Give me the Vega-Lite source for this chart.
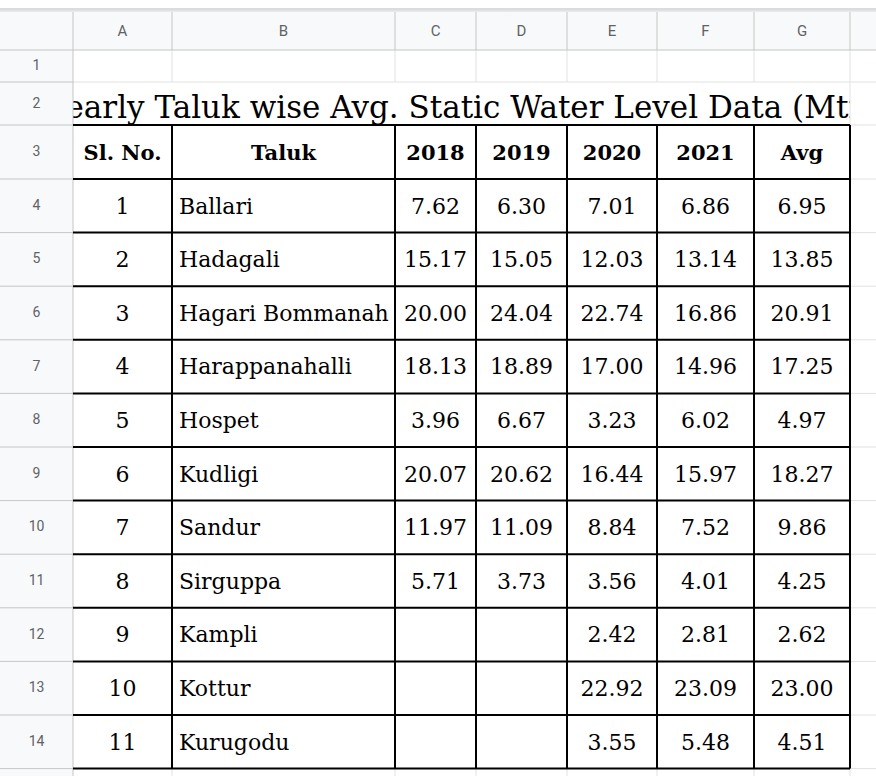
{
  "$schema": "https://vega.github.io/schema/vega-lite/v6.json",
  "width": 876,
  "height": 776,
  "autosize": "none",
  "padding": 0,
  "background": "white",
  "config": {"view": {"stroke": null}, "axis": {"disable": true}},
  "datasets": {
    "cols": [
      {"c": 1, "letter": "A", "label": "Sl. No."},
      {"c": 2, "letter": "B", "label": "Taluk"},
      {"c": 3, "letter": "C", "label": "2018"},
      {"c": 4, "letter": "D", "label": "2019"},
      {"c": 5, "letter": "E", "label": "2020"},
      {"c": 6, "letter": "F", "label": "2021"},
      {"c": 7, "letter": "G", "label": "Avg"},
      {"c": 8, "letter": "", "label": ""}
    ],
    "rows": [
      {"r": 1}, {"r": 2}, {"r": 3}, {"r": 4}, {"r": 5}, {"r": 6}, {"r": 7}, {"r": 8},
      {"r": 9}, {"r": 10}, {"r": 11}, {"r": 12}, {"r": 13}, {"r": 14}, {"r": 15}
    ],
    "title": [{"row": 2, "text": "Yearly Taluk wise Avg. Static Water Level Data (Mtr)"}],
    "taluks": [
      {"row": 4, "sl": 1, "taluk": "Ballari", "2018": 7.62, "2019": 6.30, "2020": 7.01, "2021": 6.86, "Avg": 6.95},
      {"row": 5, "sl": 2, "taluk": "Hadagali", "2018": 15.17, "2019": 15.05, "2020": 12.03, "2021": 13.14, "Avg": 13.85},
      {"row": 6, "sl": 3, "taluk": "Hagari Bommanahalli", "2018": 20.00, "2019": 24.04, "2020": 22.74, "2021": 16.86, "Avg": 20.91},
      {"row": 7, "sl": 4, "taluk": "Harappanahalli", "2018": 18.13, "2019": 18.89, "2020": 17.00, "2021": 14.96, "Avg": 17.25},
      {"row": 8, "sl": 5, "taluk": "Hospet", "2018": 3.96, "2019": 6.67, "2020": 3.23, "2021": 6.02, "Avg": 4.97},
      {"row": 9, "sl": 6, "taluk": "Kudligi", "2018": 20.07, "2019": 20.62, "2020": 16.44, "2021": 15.97, "Avg": 18.27},
      {"row": 10, "sl": 7, "taluk": "Sandur", "2018": 11.97, "2019": 11.09, "2020": 8.84, "2021": 7.52, "Avg": 9.86},
      {"row": 11, "sl": 8, "taluk": "Sirguppa", "2018": 5.71, "2019": 3.73, "2020": 3.56, "2021": 4.01, "Avg": 4.25},
      {"row": 12, "sl": 9, "taluk": "Kampli", "2018": null, "2019": null, "2020": 2.42, "2021": 2.81, "Avg": 2.62},
      {"row": 13, "sl": 10, "taluk": "Kottur", "2018": null, "2019": null, "2020": 22.92, "2021": 23.09, "Avg": 23.00},
      {"row": 14, "sl": 11, "taluk": "Kurugodu", "2018": null, "2019": null, "2020": 3.55, "2021": 5.48, "Avg": 4.51}
    ]
  },
  "layer": [
    {
      "data": {"values": [{"part": "column header"}]},
      "mark": {"type": "rect", "color": "#f8f9fa"},
      "encoding": {
        "x": {"datum": 0, "type": "quantitative", "scale": {"domain": [0,1,2,3,4,5,6,7,8,9], "range": [0,73,172,395,476,567,657,754,850,950], "zero": false, "nice": false}},
        "x2": {"datum": 9},
        "y": {"datum": 0, "type": "quantitative", "scale": {"domain": [-1,0,1,2,3,4,5,6,7,8,9,10,11,12,13,14,15,16], "range": [0,12,50,82,125,179,232.6,286.2,339.8,393.4,447,500.6,554.2,607.8,661.4,715,768.6,822.2], "zero": false, "nice": false}},
        "y2": {"datum": 1}
      }
    },
    {
      "data": {"values": [{"part": "toolbar shadow"}]},
      "mark": {"type": "rect", "color": {"gradient": "linear", "x1": 0, "y1": 0, "x2": 0, "y2": 1, "stops": [{"offset": 0, "color": "#ffffff"}, {"offset": 0.64, "color": "#ffffff"}, {"offset": 0.72, "color": "#d6d6d6"}, {"offset": 1, "color": "#ececec"}]}},
      "encoding": {
        "x": {"datum": 0, "type": "quantitative", "scale": {"domain": [0,1,2,3,4,5,6,7,8,9], "range": [0,73,172,395,476,567,657,754,850,950], "zero": false, "nice": false}},
        "x2": {"datum": 9},
        "y": {"datum": -1, "type": "quantitative", "scale": {"domain": [-1,0,1,2,3,4,5,6,7,8,9,10,11,12,13,14,15,16], "range": [0,12,50,82,125,179,232.6,286.2,339.8,393.4,447,500.6,554.2,607.8,661.4,715,768.6,822.2], "zero": false, "nice": false}},
        "y2": {"datum": 0}
      }
    },
    {
      "data": {"name": "title"},
      "mark": {"type": "text", "font": "DejaVu Serif", "fontSize": 31, "align": "center", "baseline": "alphabetic", "dy": 36, "color": "#000000"},
      "encoding": {
        "x": {"datum": 3.821, "type": "quantitative", "scale": {"domain": [0,1,2,3,4,5,6,7,8,9], "range": [0,73,172,395,476,567,657,754,850,950], "zero": false, "nice": false}},
        "y": {"field": "row", "type": "quantitative", "scale": {"domain": [-1,0,1,2,3,4,5,6,7,8,9,10,11,12,13,14,15,16], "range": [0,12,50,82,125,179,232.6,286.2,339.8,393.4,447,500.6,554.2,607.8,661.4,715,768.6,822.2], "zero": false, "nice": false}},
        "text": {"field": "text"}
      }
    },
    {
      "data": {"name": "taluks"},
      "mark": {"type": "text", "font": "DejaVu Serif", "fontSize": 22, "align": "left", "baseline": "alphabetic", "dx": 7, "dy": 34.5, "color": "#000000", "limit": 222, "ellipsis": "\u200b"},
      "encoding": {
        "x": {"datum": 2, "type": "quantitative", "scale": {"domain": [0,1,2,3,4,5,6,7,8,9], "range": [0,73,172,395,476,567,657,754,850,950], "zero": false, "nice": false}},
        "y": {"field": "row", "type": "quantitative", "scale": {"domain": [-1,0,1,2,3,4,5,6,7,8,9,10,11,12,13,14,15,16], "range": [0,12,50,82,125,179,232.6,286.2,339.8,393.4,447,500.6,554.2,607.8,661.4,715,768.6,822.2], "zero": false, "nice": false}},
        "text": {"field": "taluk"}
      }
    },
    {
      "data": {"values": [{"x": 3, "x2": 8, "y": 4, "y2": 15, "fill": "body"}, {"x": 8, "x2": 9, "y": 2, "y2": 3, "fill": "body"}, {"x": 0, "x2": 1, "y": 1, "y2": 16, "fill": "header"}]},
      "mark": {"type": "rect"},
      "encoding": {
        "x": {"field": "x", "type": "quantitative", "scale": {"domain": [0,1,2,3,4,5,6,7,8,9], "range": [0,73,172,395,476,567,657,754,850,950], "zero": false, "nice": false}},
        "x2": {"field": "x2"},
        "y": {"field": "y", "type": "quantitative", "scale": {"domain": [-1,0,1,2,3,4,5,6,7,8,9,10,11,12,13,14,15,16], "range": [0,12,50,82,125,179,232.6,286.2,339.8,393.4,447,500.6,554.2,607.8,661.4,715,768.6,822.2], "zero": false, "nice": false}},
        "y2": {"field": "y2"},
        "color": {"field": "fill", "type": "nominal", "scale": {"domain": ["body", "header"], "range": ["#ffffff", "#f8f9fa"]}, "legend": null}
      }
    },
    {
      "data": {"name": "cols"},
      "transform": [{"filter": "datum.c >= 2"}],
      "mark": {"type": "rule", "color": "#e1e1e1", "strokeWidth": 1},
      "encoding": {
        "x": {"field": "c", "type": "quantitative", "scale": {"domain": [0,1,2,3,4,5,6,7,8,9], "range": [0,73,172,395,476,567,657,754,850,950], "zero": false, "nice": false}},
        "y": {"datum": 1, "type": "quantitative", "scale": {"domain": [-1,0,1,2,3,4,5,6,7,8,9,10,11,12,13,14,15,16], "range": [0,12,50,82,125,179,232.6,286.2,339.8,393.4,447,500.6,554.2,607.8,661.4,715,768.6,822.2], "zero": false, "nice": false}},
        "y2": {"datum": 2}
      }
    },
    {
      "data": {"name": "cols"},
      "transform": [{"filter": "datum.c >= 2"}],
      "mark": {"type": "rule", "color": "#e1e1e1", "strokeWidth": 1},
      "encoding": {
        "x": {"field": "c", "type": "quantitative", "scale": {"domain": [0,1,2,3,4,5,6,7,8,9], "range": [0,73,172,395,476,567,657,754,850,950], "zero": false, "nice": false}},
        "y": {"datum": 3, "type": "quantitative", "scale": {"domain": [-1,0,1,2,3,4,5,6,7,8,9,10,11,12,13,14,15,16], "range": [0,12,50,82,125,179,232.6,286.2,339.8,393.4,447,500.6,554.2,607.8,661.4,715,768.6,822.2], "zero": false, "nice": false}},
        "y2": {"datum": 16}
      }
    },
    {
      "data": {"name": "cols"},
      "transform": [{"filter": "datum.c == 8"}],
      "mark": {"type": "rule", "color": "#e1e1e1", "strokeWidth": 1},
      "encoding": {
        "x": {"field": "c", "type": "quantitative", "scale": {"domain": [0,1,2,3,4,5,6,7,8,9], "range": [0,73,172,395,476,567,657,754,850,950], "zero": false, "nice": false}},
        "y": {"datum": 2, "type": "quantitative", "scale": {"domain": [-1,0,1,2,3,4,5,6,7,8,9,10,11,12,13,14,15,16], "range": [0,12,50,82,125,179,232.6,286.2,339.8,393.4,447,500.6,554.2,607.8,661.4,715,768.6,822.2], "zero": false, "nice": false}},
        "y2": {"datum": 3}
      }
    },
    {
      "data": {"name": "rows"},
      "transform": [{"filter": "datum.r >= 2"}],
      "mark": {"type": "rule", "color": "#e1e1e1", "strokeWidth": 1},
      "encoding": {
        "x": {"datum": 1, "type": "quantitative", "scale": {"domain": [0,1,2,3,4,5,6,7,8,9], "range": [0,73,172,395,476,567,657,754,850,950], "zero": false, "nice": false}},
        "x2": {"datum": 9},
        "y": {"field": "r", "type": "quantitative", "scale": {"domain": [-1,0,1,2,3,4,5,6,7,8,9,10,11,12,13,14,15,16], "range": [0,12,50,82,125,179,232.6,286.2,339.8,393.4,447,500.6,554.2,607.8,661.4,715,768.6,822.2], "zero": false, "nice": false}}
      }
    },
    {
      "data": {"name": "rows"},
      "transform": [{"filter": "datum.r >= 2"}],
      "mark": {"type": "rule", "color": "#c4c7c5", "strokeWidth": 1},
      "encoding": {
        "x": {"datum": 0, "type": "quantitative", "scale": {"domain": [0,1,2,3,4,5,6,7,8,9], "range": [0,73,172,395,476,567,657,754,850,950], "zero": false, "nice": false}},
        "x2": {"datum": 1},
        "y": {"field": "r", "type": "quantitative", "scale": {"domain": [-1,0,1,2,3,4,5,6,7,8,9,10,11,12,13,14,15,16], "range": [0,12,50,82,125,179,232.6,286.2,339.8,393.4,447,500.6,554.2,607.8,661.4,715,768.6,822.2], "zero": false, "nice": false}}
      }
    },
    {
      "data": {"name": "cols"},
      "transform": [{"filter": "datum.c >= 2"}],
      "mark": {"type": "rule", "color": "#c4c7c5", "strokeWidth": 1},
      "encoding": {
        "x": {"field": "c", "type": "quantitative", "scale": {"domain": [0,1,2,3,4,5,6,7,8,9], "range": [0,73,172,395,476,567,657,754,850,950], "zero": false, "nice": false}},
        "y": {"datum": 0, "type": "quantitative", "scale": {"domain": [-1,0,1,2,3,4,5,6,7,8,9,10,11,12,13,14,15,16], "range": [0,12,50,82,125,179,232.6,286.2,339.8,393.4,447,500.6,554.2,607.8,661.4,715,768.6,822.2], "zero": false, "nice": false}},
        "y2": {"datum": 1}
      }
    },
    {
      "data": {"values": [{"edge": "row header"}]},
      "mark": {"type": "rule", "color": "#c4c7c5", "strokeWidth": 1},
      "encoding": {
        "x": {"datum": 1, "type": "quantitative", "scale": {"domain": [0,1,2,3,4,5,6,7,8,9], "range": [0,73,172,395,476,567,657,754,850,950], "zero": false, "nice": false}},
        "y": {"datum": 0, "type": "quantitative", "scale": {"domain": [-1,0,1,2,3,4,5,6,7,8,9,10,11,12,13,14,15,16], "range": [0,12,50,82,125,179,232.6,286.2,339.8,393.4,447,500.6,554.2,607.8,661.4,715,768.6,822.2], "zero": false, "nice": false}},
        "y2": {"datum": 16}
      }
    },
    {
      "data": {"values": [{"edge": "column header"}]},
      "mark": {"type": "rule", "color": "#c4c7c5", "strokeWidth": 1},
      "encoding": {
        "x": {"datum": 0, "type": "quantitative", "scale": {"domain": [0,1,2,3,4,5,6,7,8,9], "range": [0,73,172,395,476,567,657,754,850,950], "zero": false, "nice": false}},
        "x2": {"datum": 9},
        "y": {"datum": 1, "type": "quantitative", "scale": {"domain": [-1,0,1,2,3,4,5,6,7,8,9,10,11,12,13,14,15,16], "range": [0,12,50,82,125,179,232.6,286.2,339.8,393.4,447,500.6,554.2,607.8,661.4,715,768.6,822.2], "zero": false, "nice": false}}
      }
    },
    {
      "data": {"name": "rows"},
      "transform": [{"filter": "datum.r >= 3"}],
      "mark": {"type": "rule", "color": "#000000", "strokeWidth": 2},
      "encoding": {
        "x": {"datum": 1, "type": "quantitative", "scale": {"domain": [0,1,2,3,4,5,6,7,8,9], "range": [0,73,172,395,476,567,657,754,850,950], "zero": false, "nice": false}},
        "x2": {"datum": 8},
        "y": {"field": "r", "type": "quantitative", "scale": {"domain": [-1,0,1,2,3,4,5,6,7,8,9,10,11,12,13,14,15,16], "range": [0,12,50,82,125,179,232.6,286.2,339.8,393.4,447,500.6,554.2,607.8,661.4,715,768.6,822.2], "zero": false, "nice": false}}
      }
    },
    {
      "data": {"name": "cols"},
      "transform": [{"filter": "datum.c >= 2"}],
      "mark": {"type": "rule", "color": "#000000", "strokeWidth": 2},
      "encoding": {
        "x": {"field": "c", "type": "quantitative", "scale": {"domain": [0,1,2,3,4,5,6,7,8,9], "range": [0,73,172,395,476,567,657,754,850,950], "zero": false, "nice": false}},
        "y": {"datum": 3, "type": "quantitative", "scale": {"domain": [-1,0,1,2,3,4,5,6,7,8,9,10,11,12,13,14,15,16], "range": [0,12,50,82,125,179,232.6,286.2,339.8,393.4,447,500.6,554.2,607.8,661.4,715,768.6,822.2], "zero": false, "nice": false}},
        "y2": {"datum": 15}
      }
    },
    {
      "data": {"name": "cols"},
      "transform": [{"filter": "datum.c <= 7"}, {"calculate": "datum.c + 0.5", "as": "mid"}],
      "mark": {"type": "text", "font": "Roboto", "fontSize": 15, "align": "center", "baseline": "middle", "color": "#5f6368"},
      "encoding": {
        "x": {"field": "mid", "type": "quantitative", "scale": {"domain": [0,1,2,3,4,5,6,7,8,9], "range": [0,73,172,395,476,567,657,754,850,950], "zero": false, "nice": false}},
        "y": {"datum": 0.5, "type": "quantitative", "scale": {"domain": [-1,0,1,2,3,4,5,6,7,8,9,10,11,12,13,14,15,16], "range": [0,12,50,82,125,179,232.6,286.2,339.8,393.4,447,500.6,554.2,607.8,661.4,715,768.6,822.2], "zero": false, "nice": false}},
        "text": {"field": "letter"}
      }
    },
    {
      "data": {"name": "rows"},
      "transform": [{"filter": "datum.r <= 14"}, {"calculate": "datum.r + 0.5", "as": "mid"}],
      "mark": {"type": "text", "font": "Roboto", "fontSize": 14, "align": "center", "baseline": "middle", "color": "#5f6368"},
      "encoding": {
        "x": {"datum": 0.5, "type": "quantitative", "scale": {"domain": [0,1,2,3,4,5,6,7,8,9], "range": [0,73,172,395,476,567,657,754,850,950], "zero": false, "nice": false}},
        "y": {"field": "mid", "type": "quantitative", "scale": {"domain": [-1,0,1,2,3,4,5,6,7,8,9,10,11,12,13,14,15,16], "range": [0,12,50,82,125,179,232.6,286.2,339.8,393.4,447,500.6,554.2,607.8,661.4,715,768.6,822.2], "zero": false, "nice": false}},
        "text": {"field": "r"}
      }
    },
    {
      "data": {"name": "cols"},
      "transform": [{"filter": "datum.c <= 7"}, {"calculate": "datum.c + 0.5", "as": "mid"}],
      "mark": {"type": "text", "font": "DejaVu Serif", "fontSize": 21, "fontWeight": "bold", "align": "center", "baseline": "alphabetic", "dy": 35, "color": "#000000"},
      "encoding": {
        "x": {"field": "mid", "type": "quantitative", "scale": {"domain": [0,1,2,3,4,5,6,7,8,9], "range": [0,73,172,395,476,567,657,754,850,950], "zero": false, "nice": false}},
        "y": {"datum": 3, "type": "quantitative", "scale": {"domain": [-1,0,1,2,3,4,5,6,7,8,9,10,11,12,13,14,15,16], "range": [0,12,50,82,125,179,232.6,286.2,339.8,393.4,447,500.6,554.2,607.8,661.4,715,768.6,822.2], "zero": false, "nice": false}},
        "text": {"field": "label"}
      }
    },
    {
      "data": {"name": "taluks"},
      "mark": {"type": "text", "font": "DejaVu Serif", "fontSize": 22, "align": "center", "baseline": "alphabetic", "dy": 34.5, "color": "#000000"},
      "encoding": {
        "x": {"datum": 1.5, "type": "quantitative", "scale": {"domain": [0,1,2,3,4,5,6,7,8,9], "range": [0,73,172,395,476,567,657,754,850,950], "zero": false, "nice": false}},
        "y": {"field": "row", "type": "quantitative", "scale": {"domain": [-1,0,1,2,3,4,5,6,7,8,9,10,11,12,13,14,15,16], "range": [0,12,50,82,125,179,232.6,286.2,339.8,393.4,447,500.6,554.2,607.8,661.4,715,768.6,822.2], "zero": false, "nice": false}},
        "text": {"field": "sl"}
      }
    },
    {
      "data": {"name": "taluks"},
      "transform": [
        {"fold": ["2018", "2019", "2020", "2021", "Avg"], "as": ["key", "value"]},
        {"filter": "isValid(datum.value)"},
        {"lookup": "key", "from": {"data": {"name": "cols"}, "key": "label", "fields": ["c"]}},
        {"calculate": "datum.c + 0.5", "as": "mid"}
      ],
      "mark": {"type": "text", "font": "DejaVu Serif", "fontSize": 22, "align": "center", "baseline": "alphabetic", "dy": 34.5, "color": "#000000"},
      "encoding": {
        "x": {"field": "mid", "type": "quantitative", "scale": {"domain": [0,1,2,3,4,5,6,7,8,9], "range": [0,73,172,395,476,567,657,754,850,950], "zero": false, "nice": false}},
        "y": {"field": "row", "type": "quantitative", "scale": {"domain": [-1,0,1,2,3,4,5,6,7,8,9,10,11,12,13,14,15,16], "range": [0,12,50,82,125,179,232.6,286.2,339.8,393.4,447,500.6,554.2,607.8,661.4,715,768.6,822.2], "zero": false, "nice": false}},
        "text": {"field": "value", "type": "quantitative", "format": ".2f"}
      }
    }
  ]
}
